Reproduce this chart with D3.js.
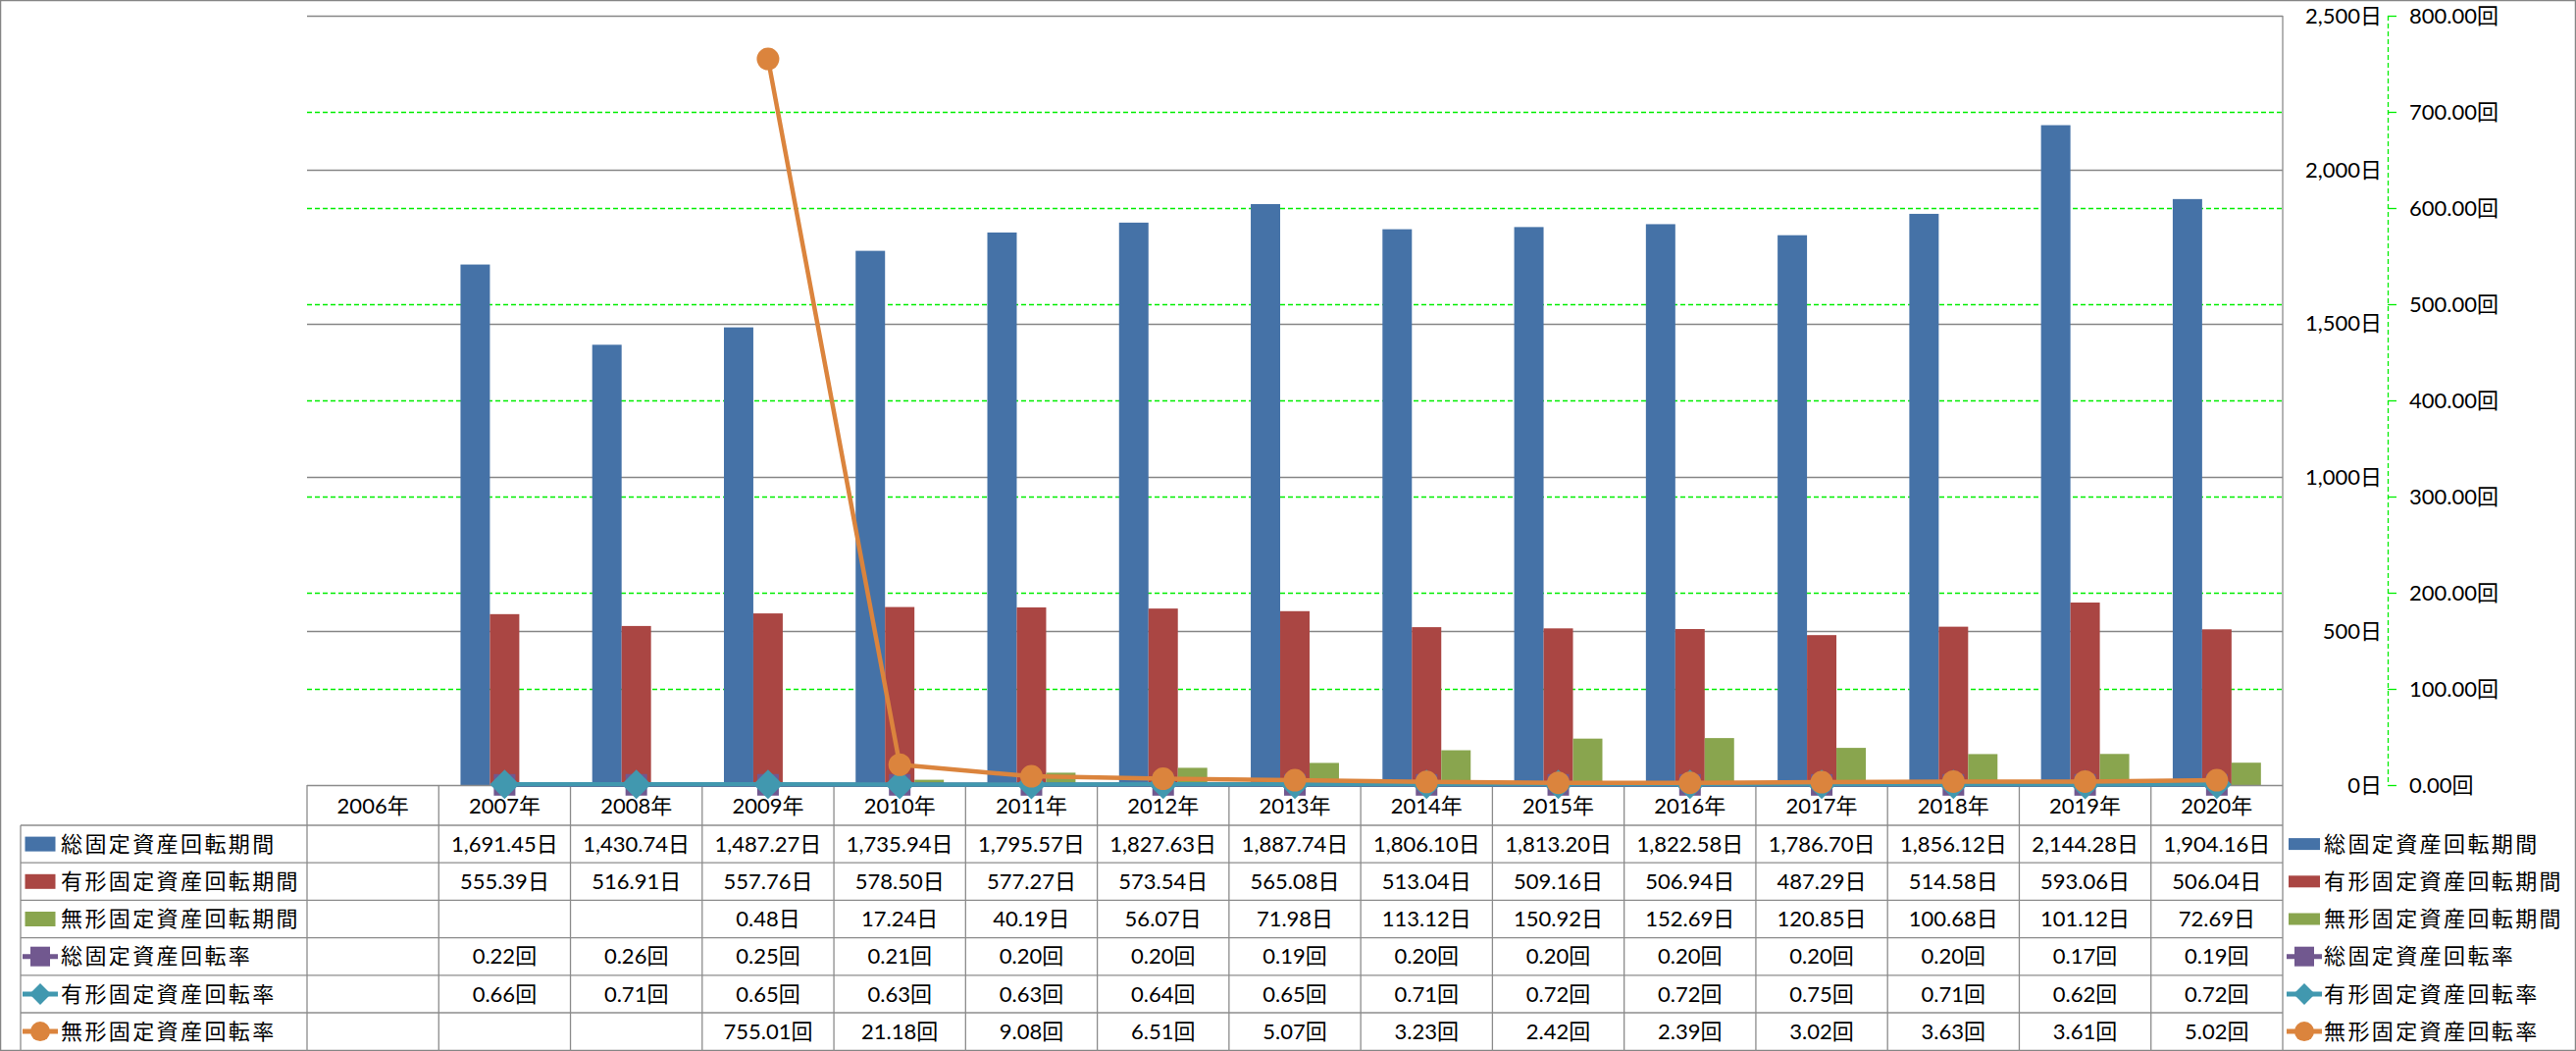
<!DOCTYPE html>
<html><head><meta charset="utf-8">
<script src="https://cdn.jsdelivr.net/npm/d3@7/dist/d3.min.js"></script>
<style>
html,body{margin:0;padding:0;background:#fff;}
svg text{font-family:Lato,"Noto Sans CJK JP",sans-serif;fill:#000;}
</style></head>
<body>
<script>
const categories = ["2006年","2007年","2008年","2009年","2010年","2011年","2012年","2013年","2014年","2015年","2016年","2017年","2018年","2019年","2020年"];
const totalPeriod = [null,1691.45,1430.74,1487.27,1735.94,1795.57,1827.63,1887.74,1806.10,1813.20,1822.58,1786.70,1856.12,2144.28,1904.16];
const tangiblePeriod = [null,555.39,516.91,557.76,578.50,577.27,573.54,565.08,513.04,509.16,506.94,487.29,514.58,593.06,506.04];
const intangiblePeriod = [null,null,null,0.48,17.24,40.19,56.07,71.98,113.12,150.92,152.69,120.85,100.68,101.12,72.69];
const totalRate = [null,0.22,0.26,0.25,0.21,0.20,0.20,0.19,0.20,0.20,0.20,0.20,0.20,0.17,0.19];
const tangibleRate = [null,0.66,0.71,0.65,0.63,0.63,0.64,0.65,0.71,0.72,0.72,0.75,0.71,0.62,0.72];
const intangibleRate = [null,null,null,755.01,21.18,9.08,6.51,5.07,3.23,2.42,2.39,3.02,3.63,3.61,5.02];
const primaryTicks = [0,500,1000,1500,2000,2500];
const secondaryTicks = [0,100,200,300,400,500,600,700,800];
const seriesNames = ["総固定資産回転期間","有形固定資産回転期間","無形固定資産回転期間","総固定資産回転率","有形固定資産回転率","無形固定資産回転率"];

const W=2626,H=1071;
const L=313,R=2327,T=16,B=800;
const rowTop=841,rowH=38.2;
const colors=["#4572A7","#AA4643","#89A54E","#71588F","#4198AF","#DB843D"];
const fs=22;

const svg=d3.select("body").append("svg").attr("width",W).attr("height",H);

const x=d3.scaleBand().domain(categories).range([L,R]).padding(0);
const yP=d3.scaleLinear().domain([0,2500]).range([B,T]);
const yS=d3.scaleLinear().domain([0,800]).range([B,T]);
const barSeries=[totalPeriod,tangiblePeriod,intangiblePeriod];
const xs=d3.scaleBand().domain([0,1,2]).range([0,x.bandwidth()]).paddingInner(0).paddingOuter(0.74);

// outer border
svg.append("rect").attr("x",0.5).attr("y",0.5).attr("width",W-1).attr("height",H-1)
  .attr("fill","none").attr("stroke","#868686").attr("stroke-width",1.5);

// secondary gridlines (green dashed)
svg.append("g").selectAll("line").data(secondaryTicks.filter(d=>d>0&&d<800)).join("line")
  .attr("x1",L).attr("x2",R).attr("y1",d=>Math.round(yS(d))+0.5).attr("y2",d=>Math.round(yS(d))+0.5)
  .attr("stroke","#00EE00").attr("stroke-width",1.3).attr("stroke-dasharray","5,3");
// primary gridlines
svg.append("g").selectAll("line").data(primaryTicks.filter(d=>d>0)).join("line")
  .attr("x1",L).attr("x2",R).attr("y1",d=>Math.round(yP(d))+0.5).attr("y2",d=>Math.round(yP(d))+0.5)
  .attr("stroke","#868686").attr("stroke-width",1.3);

// bars
barSeries.forEach((s,si)=>{
  svg.append("g").selectAll("rect").data(s.map((v,i)=>({v,c:categories[i]})).filter(d=>d.v!=null)).join("rect")
    .attr("x",d=>x(d.c)+xs(si)).attr("width",xs.bandwidth())
    .attr("y",d=>yP(d.v)).attr("height",d=>B-yP(d.v)).attr("fill",colors[si]);
});

// table grid
const tg=svg.append("g").attr("stroke","#8c8c8c").attr("stroke-width",1.3);
tg.append("line").attr("x1",L).attr("x2",R).attr("y1",B+0.5).attr("y2",B+0.5);
for(let r=0;r<=6;r++){
  const yy=rowTop+r*rowH;
  if(r<6) tg.append("line").attr("x1",21).attr("x2",R).attr("y1",yy).attr("y2",yy);
}
tg.append("line").attr("x1",21).attr("x2",21).attr("y1",rowTop).attr("y2",H);
categories.forEach(c=>{
  tg.append("line").attr("x1",x(c)).attr("x2",x(c)).attr("y1",B).attr("y2",H);
});
tg.append("line").attr("x1",R).attr("x2",R).attr("y1",T).attr("y2",H);

// top gridline (primary 2500) over
// secondary axis line
svg.append("line").attr("x1",2434.5).attr("x2",2434.5).attr("y1",T).attr("y2",B)
  .attr("stroke","#00EE00").attr("stroke-width",1.3).attr("stroke-dasharray","5,3");
svg.append("g").selectAll("line").data(secondaryTicks).join("line")
  .attr("x1",2434).attr("x2",2443).attr("y1",d=>Math.round(yS(d))+0.5).attr("y2",d=>Math.round(yS(d))+0.5)
  .attr("stroke","#00EE00").attr("stroke-width",1.3);

// axis labels
svg.append("g").selectAll("text").data(primaryTicks).join("text")
  .attr("x",2428).attr("y",d=>yP(d)).attr("dy","0.35em").attr("text-anchor","end")
  .attr("font-size",fs).text(d=>d3.format(",")(d)+"日");
svg.append("g").selectAll("text").data(secondaryTicks).join("text")
  .attr("x",2456).attr("y",d=>yS(d)).attr("dy","0.35em").attr("text-anchor","start")
  .attr("font-size",fs).text(d=>d3.format(".2f")(d)+"回");

// lines
const lineSeries=[totalRate,tangibleRate,intangibleRate];
const markerFns=[
  (g,cx,cy,col)=>g.append("rect").attr("x",cx-11).attr("y",cy-11).attr("width",22).attr("height",22).attr("fill",col),
  (g,cx,cy,col)=>g.append("path").attr("d",`M${cx},${cy-15}L${cx+15},${cy}L${cx},${cy+15}L${cx-15},${cy}Z`).attr("fill",col),
  (g,cx,cy,col)=>g.append("circle").attr("cx",cx).attr("cy",cy).attr("r",11.5).attr("fill",col)
];
lineSeries.forEach((s,si)=>{
  const pts=s.map((v,i)=>({v,c:categories[i]}));
  const line=d3.line().defined(d=>d.v!=null).x(d=>x(d.c)+x.bandwidth()/2).y(d=>yS(d.v));
  const g=svg.append("g");
  g.append("path").attr("d",line(pts)).attr("fill","none").attr("stroke",colors[3+si]).attr("stroke-width",4.5).attr("stroke-linejoin","round");
  pts.filter(d=>d.v!=null).forEach(d=>markerFns[si](g,x(d.c)+x.bandwidth()/2,yS(d.v),colors[3+si]));
});

// table header
svg.append("g").selectAll("text").data(categories).join("text")
  .attr("x",d=>x(d)+x.bandwidth()/2).attr("y",(B+rowTop)/2+1).attr("dy","0.35em")
  .attr("text-anchor","middle").attr("font-size",fs).text(d=>d);

// table rows
const allSeries=[totalPeriod,tangiblePeriod,intangiblePeriod,totalRate,tangibleRate,intangibleRate];
const units=["日","日","日","回","回","回"];
function legendSymbol(g,si,cx,cy,rectW,rectH){
  if(si<3){
    g.append("rect").attr("x",cx-rectW/2).attr("y",cy-rectH/2).attr("width",rectW).attr("height",rectH).attr("fill",colors[si]);
  } else {
    g.append("line").attr("x1",cx-18).attr("x2",cx+18).attr("y1",cy).attr("y2",cy).attr("stroke",colors[si]).attr("stroke-width",5);
    const k=si-3;
    if(k===0) g.append("rect").attr("x",cx-10).attr("y",cy-10).attr("width",20).attr("height",20).attr("fill",colors[si]);
    if(k===1) g.append("path").attr("d",`M${cx},${cy-11}L${cx+11},${cy}L${cx},${cy+11}L${cx-11},${cy}Z`).attr("fill",colors[si]);
    if(k===2) g.append("circle").attr("cx",cx).attr("cy",cy).attr("r",10).attr("fill",colors[si]);
  }
}
allSeries.forEach((s,si)=>{
  const cy=rowTop+si*rowH+rowH/2;
  const g=svg.append("g");
  g.selectAll("text").data(s.map((v,i)=>({v,c:categories[i]})).filter(d=>d.v!=null)).join("text")
    .attr("x",d=>x(d.c)+x.bandwidth()/2).attr("y",cy).attr("dy","0.35em").attr("text-anchor","middle")
    .attr("font-size",fs).text(d=>d3.format(",.2f")(d.v)+units[si]);
  // row header
  legendSymbol(g,si,41,cy,31,15);
  g.append("text").attr("x",62).attr("y",cy).attr("dy","0.35em").attr("font-size",fs)
    .attr("letter-spacing","2.4px").text(seriesNames[si]);
  // right legend
  legendSymbol(g,si,2349,cy,32,12);
  g.append("text").attr("x",2369).attr("y",cy).attr("dy","0.35em").attr("font-size",fs)
    .attr("letter-spacing","2.4px").text(seriesNames[si]);
});
</script>
</body></html>
